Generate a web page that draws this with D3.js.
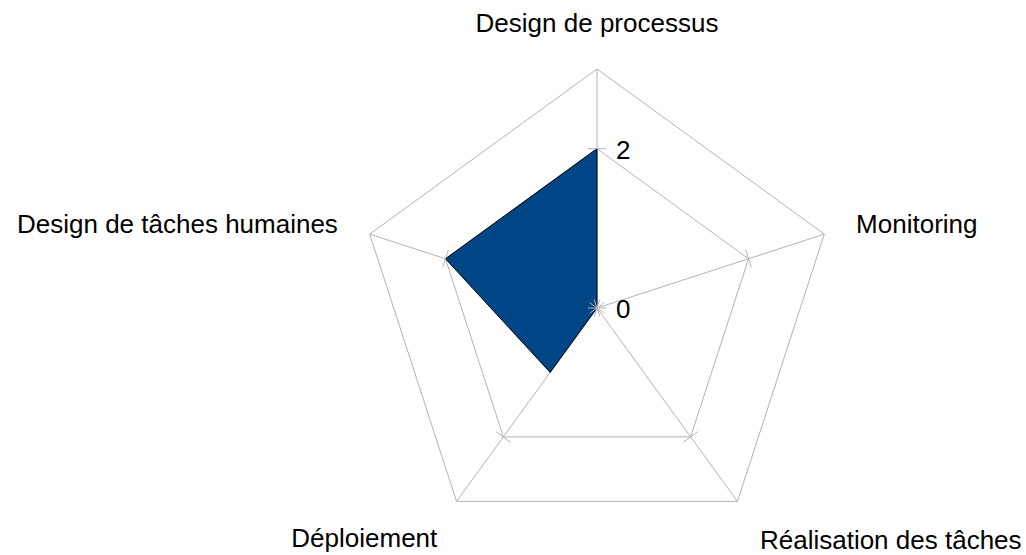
<!DOCTYPE html>
<html>
<head>
<meta charset="utf-8">
<script src="https://cdn.jsdelivr.net/npm/d3@7"></script>
<style>
  body { margin: 0; background: #fff; }
  text { font-family: "Liberation Sans", Arial, sans-serif; fill: #000; }
</style>
</head>
<body>
<svg id="chart"></svg>
<script>
// data
const categories = ['Design de processus', 'Monitoring', 'Réalisation des tâches', 'Déploiement', 'Design de tâches humaines'];
const values = [2, 0, 0, 1, 2];
const tickValues = [0, 2];
const gridValues = [2, 3];
const maxValue = 3;

const width = 1026, height = 555;
const cx = 597, cy = 308, R = 239;

const svg = d3.select('#chart').attr('width', width).attr('height', height);

const r = d3.scaleLinear().domain([0, maxValue]).range([0, R]);
const angle = d3.scalePoint().domain(categories).range([0, 2 * Math.PI * (categories.length - 1) / categories.length]);

function pt(cat, v) {
  const a = angle(cat);
  return [cx + r(v) * Math.sin(a), cy - r(v) * Math.cos(a)];
}

const g = svg.append('g');

// grid polygons
gridValues.forEach(v => {
  g.append('polygon')
    .attr('points', categories.map(c => pt(c, v).join(',')).join(' '))
    .attr('fill', 'none')
    .attr('stroke', '#b3b3b3')
    .attr('stroke-width', 1);
});

// spokes
categories.forEach(c => {
  const [x, y] = pt(c, maxValue);
  g.append('line')
    .attr('x1', cx).attr('y1', cy).attr('x2', x).attr('y2', y)
    .attr('stroke', '#b3b3b3').attr('stroke-width', 1);
});

// data polygon
svg.append('polygon')
  .attr('points', categories.map((c, i) => pt(c, values[i]).join(',')).join(' '))
  .attr('fill', '#004586')
  .attr('stroke', '#000')
  .attr('stroke-width', 1)
  .attr('stroke-linejoin', 'miter');

// tick marks on each spoke
const tl = 9;
categories.forEach(c => {
  const a = angle(c);
  const px = Math.cos(a), py = Math.sin(a);
  tickValues.forEach(v => {
    const [x, y] = pt(c, v);
    svg.append('line')
      .attr('x1', x - px * tl).attr('y1', y - py * tl)
      .attr('x2', x + px * tl).attr('y2', y + py * tl)
      .attr('stroke', '#b3b3b3').attr('stroke-width', 1);
  });
});

// tick labels on the first axis
tickValues.forEach(v => {
  const [x, y] = pt(categories[0], v);
  svg.append('text')
    .attr('x', x + 19).attr('y', y + 10)
    .attr('font-size', 26)
    .text(v);
});

// category labels
const labelAnchor = ['middle', 'start', 'start', 'end', 'end'];
const labelR = [3.47, 3.42, 3.48, 3.41, 3.42];
const labelDy = [0, 9, 17, 19, 9];
categories.forEach((c, i) => {
  const [x, y] = pt(c, labelR[i]);
  svg.append('text')
    .attr('x', x).attr('y', y + labelDy[i])
    .attr('text-anchor', labelAnchor[i])
    .attr('font-size', 26)
    .text(c);
});
</script>
</body>
</html>
